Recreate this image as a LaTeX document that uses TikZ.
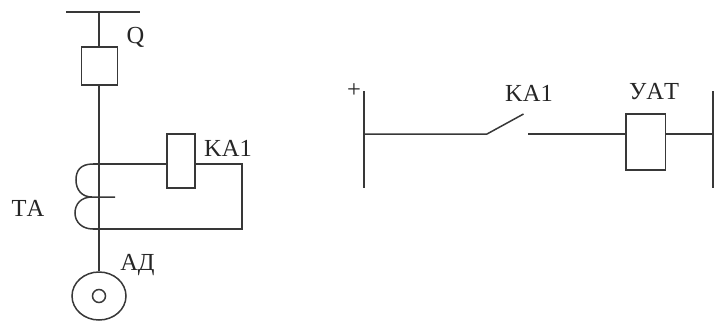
\documentclass[tikz,border=0pt]{standalone}
\usepackage{fontspec}
\usetikzlibrary{shapes.geometric}
\setmainfont{Liberation Serif}[Kerning=Off]
\begin{document}
\begin{tikzpicture}[x=1pt,y=-1pt,
  wire/.style={draw=black!78,line width=1.5pt},
  boxn/.style={draw=black!78,line width=1.5pt,fill=white,inner sep=0pt,minimum width=#1},
  lbl/.style={inner sep=0pt,text=black!85,font=\fontsize{24.5}{25}\selectfont}]
\useasboundingbox (0,0) rectangle (720,325);
% left part
\coordinate (bl) at (66,12);
\coordinate (br) at (140,12);
\coordinate (bm) at (99,12);
\coordinate (ct) at (93,164);
\coordinate (cb) at (93,229);
\coordinate (ce) at (115,197);
\coordinate (tr) at (242,164);
\coordinate (brr) at (242,229);
\node[boxn=36pt,minimum height=38pt] (Q) at (99.5,66) {};
\node[boxn=28pt,minimum height=54pt] (KA) at (181,161) {};
\node[draw=black!78,line width=1.5pt,ellipse,minimum width=54pt,minimum height=48pt,inner sep=0pt] (AD) at (99,296) {};
\node[draw=black!78,line width=1.5pt,circle,minimum size=13pt,inner sep=0pt] (ADi) at (99,296) {};
\draw[wire] (bl) -- (br);
\draw[wire] (bm) -- (bm |- Q.north);
\draw[wire] (Q.south -| bm) -- (bm |- AD.north);
\draw[wire] (ct) .. controls (80,164) and (76,171) .. (76,180) .. controls (76,190) and (82,197) .. (92,197) -- (ce);
\draw[wire] (92,197) .. controls (81,197) and (75,204) .. (75,213) .. controls (75,222) and (82,229) .. (cb);
\draw[wire] (ct) -- (ct -| KA.west);
\draw[wire] (ct -| KA.east) -- (tr) -- (brr) -- (cb);
% right part
\coordinate (l1) at (364,91);
\coordinate (l2) at (364,188);
\coordinate (r1) at (713,91);
\coordinate (r2) at (713,188);
\coordinate (sa) at (487,134);
\coordinate (sb) at (523.5,114);
\coordinate (sc) at (528,134);
\node[boxn=39.5pt,minimum height=56pt] (YAT) at (645.5,142) {};
\draw[wire] (l1) -- (l2);
\draw[wire] (r1) -- (r2);
\draw[wire] (l1 |- sa) -- (sa) -- (sb);
\draw[wire] (sc) -- (sc -| YAT.west);
\draw[wire] (sc -| YAT.east) -- (r1 |- sc);
% labels
\node[lbl] (tQ) at (135.5,37) {Q};
\node[lbl] (tKA) at (228,148) {KA1};
\node[lbl] (tTA) at (28,208) {TA};
\node[lbl] (tAD) at (137.5,265) {АД};
\node[lbl] (tp) at (354,91) {+};
\node[lbl] (tKB) at (529,93) {KA1};
\node[lbl] (tY) at (654,92) {УАТ};
\end{tikzpicture}
\end{document}
